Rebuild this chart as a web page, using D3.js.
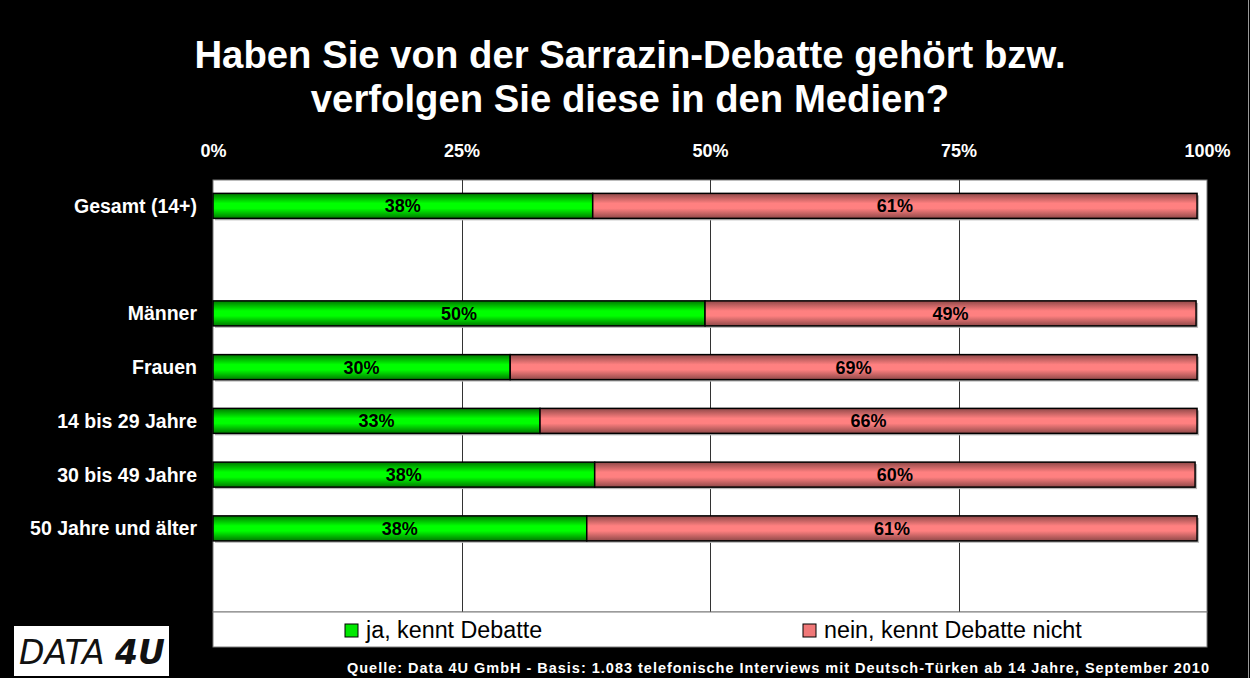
<!DOCTYPE html>
<html>
<head>
<meta charset="utf-8">
<script src="https://cdn.jsdelivr.net/npm/d3@7"></script>
<style>
  html, body { margin: 0; padding: 0; background: #000; }
  svg { display: block; font-family: Arial, "Liberation Sans", sans-serif; }
</style>
</head>
<body>
<svg id="chart" width="1250" height="678"></svg>
<script>
// data
const titleLines = ["Haben Sie von der Sarrazin-Debatte gehört bzw.", "verfolgen Sie diese in den Medien?"];
const categories = ["Gesamt (14+)", "Männer", "Frauen", "14 bis 29 Jahre", "30 bis 49 Jahre", "50 Jahre und älter"];
const slots = ["Gesamt (14+)", "gap1", "Männer", "Frauen", "14 bis 29 Jahre", "30 bis 49 Jahre", "50 Jahre und älter", "gap2"];
const ja = [38.2, 49.5, 29.9, 32.9, 38.4, 37.6];
const nein = [60.8, 49.4, 69.1, 66.1, 60.4, 61.4];
const seriesNames = ["ja, kennt Debatte", "nein, kennt Debatte nicht"];
const ticks = [0, 25, 50, 75, 100];
const source = "Quelle: Data 4U GmbH - Basis: 1.083 telefonische Interviews mit Deutsch-Türken ab 14 Jahre, September 2010";

const svg = d3.select("#chart");
const W = 1250, H = 678;
const plot = {left: 213, right: 1207, top: 180, bottom: 612};

svg.append("rect").attr("width", W).attr("height", H).attr("fill", "#000");
svg.append("line").attr("x1", 1248.5).attr("x2", 1248.5).attr("y1", 0).attr("y2", H)
  .attr("stroke", "#9a9a9a").attr("stroke-width", 1);

// gradients for the tube look
const defs = svg.append("defs");
function tube(id, edge, mid) {
  const g = defs.append("linearGradient").attr("id", id)
    .attr("x1", 0).attr("x2", 0).attr("y1", 0).attr("y2", 1);
  g.append("stop").attr("offset", "0%").attr("stop-color", edge);
  g.append("stop").attr("offset", "40%").attr("stop-color", mid);
  g.append("stop").attr("offset", "60%").attr("stop-color", mid);
  g.append("stop").attr("offset", "100%").attr("stop-color", edge);
}
tube("gJa", "#007800", "#00ff00");
tube("gNein", "#8f4848", "#ff8080");

// title
svg.append("g").selectAll("text").data(titleLines).enter().append("text")
  .attr("x", 630).attr("y", (d, i) => 68 + i * 44)
  .attr("text-anchor", "middle").attr("fill", "#fff")
  .attr("font-size", 38.3).attr("font-weight", "bold")
  .text(d => d);

const x = d3.scaleLinear().domain([0, 100]).range([plot.left, plot.right]);
const y = d3.scaleBand().domain(slots).range([179, 609]).paddingInner(0.535).paddingOuter(0.2675);

// plot area
svg.append("rect")
  .attr("x", plot.left).attr("y", plot.top)
  .attr("width", plot.right - plot.left).attr("height", plot.bottom - plot.top)
  .attr("fill", "#fff").attr("stroke", "#7a7a7a").attr("stroke-width", 1);

svg.append("g").selectAll("line").data(ticks.slice(1, -1)).enter().append("line")
  .attr("x1", d => Math.round(x(d)) + 0.5).attr("x2", d => Math.round(x(d)) + 0.5)
  .attr("y1", plot.top).attr("y2", plot.bottom)
  .attr("stroke", "#333").attr("stroke-width", 1);

// top axis
const axis = svg.append("g").attr("transform", "translate(0," + 157 + ")")
  .call(d3.axisTop(x).tickValues(ticks).tickFormat(d => d + "%").tickSize(0).tickPadding(0));
axis.select(".domain").remove();
axis.selectAll("text").attr("fill", "#fff").attr("font-size", 18).attr("font-weight", "bold")
  .attr("font-family", "Arial, 'Liberation Sans', sans-serif").attr("dy", 0);

// category labels
svg.append("g").selectAll("text").data(categories).enter().append("text")
  .attr("x", 197).attr("y", d => y(d) + y.bandwidth() / 2 + 7)
  .attr("text-anchor", "end").attr("fill", "#fff")
  .attr("font-size", 19.5).attr("font-weight", "bold")
  .text(d => d);

// bars
const rows = categories.map((c, i) => ({cat: c, ja: ja[i], nein: nein[i]}));
const stacked = d3.stack().keys(["ja", "nein"])(rows);
const fills = {ja: "url(#gJa)", nein: "url(#gNein)"};

const bars = svg.append("g");
bars.selectAll("rect.shadow").data(rows).enter().append("rect")
  .attr("class", "shadow")
  .attr("x", x(0) + 2).attr("y", d => y(d.cat) + 2)
  .attr("width", d => x(d.ja + d.nein) - x(0)).attr("height", y.bandwidth())
  .attr("fill", "#b8b8b8");

stacked.forEach(s => {
  const g = bars.append("g");
  g.selectAll("rect").data(s).enter().append("rect")
    .attr("x", d => x(d[0])).attr("y", d => y(d.data.cat))
    .attr("width", d => x(d[1]) - x(d[0])).attr("height", y.bandwidth())
    .attr("fill", fills[s.key]).attr("stroke", "#000").attr("stroke-width", 1.5);
  g.selectAll("text").data(s).enter().append("text")
    .attr("x", d => (x(d[0]) + x(d[1])) / 2)
    .attr("y", d => y(d.data.cat) + y.bandwidth() / 2 + 6.5)
    .attr("text-anchor", "middle").attr("font-size", 18).attr("font-weight", "bold")
    .attr("fill", "#000")
    .text(d => Math.round(d[1] - d[0]) + "%");
});

// legend
svg.append("rect").attr("x", plot.left).attr("y", plot.bottom)
  .attr("width", plot.right - plot.left).attr("height", 35)
  .attr("fill", "#fff").attr("stroke", "#7a7a7a").attr("stroke-width", 1);

const legendX = [345, 803];
const legendFill = ["#00e800", "#f07878"];
const leg = svg.append("g").selectAll("g").data(seriesNames).enter().append("g")
  .attr("transform", (d, i) => "translate(" + legendX[i] + ",624)");
leg.append("rect").attr("width", 13).attr("height", 13)
  .attr("fill", (d, i) => legendFill[i]).attr("stroke", "#000").attr("stroke-width", 1);
leg.append("text").attr("x", 21).attr("y", 14)
  .attr("font-size", 23.3).attr("fill", "#000")
  .text(d => d);

// logo
svg.append("rect").attr("x", 14).attr("y", 626).attr("width", 155).attr("height", 50).attr("fill", "#fff");
const logo = svg.append("text").attr("x", 19).attr("y", 664)
  .attr("font-size", 33).attr("font-style", "italic").attr("fill", "#111")
  .attr("font-family", "'DejaVu Sans', sans-serif").attr("letter-spacing", 0)
  .attr("textLength", 146).attr("lengthAdjust", "spacingAndGlyphs");
logo.append("tspan").text("DATA ");
logo.append("tspan").attr("font-weight", "bold").text("4U");

// source
svg.append("text").attr("x", 778).attr("y", 673)
  .attr("text-anchor", "middle").attr("fill", "#fff")
  .attr("font-size", 14.5).attr("font-weight", "bold")
  .attr("textLength", 862).attr("lengthAdjust", "spacing")
  .text(source);
</script>
</body>
</html>
